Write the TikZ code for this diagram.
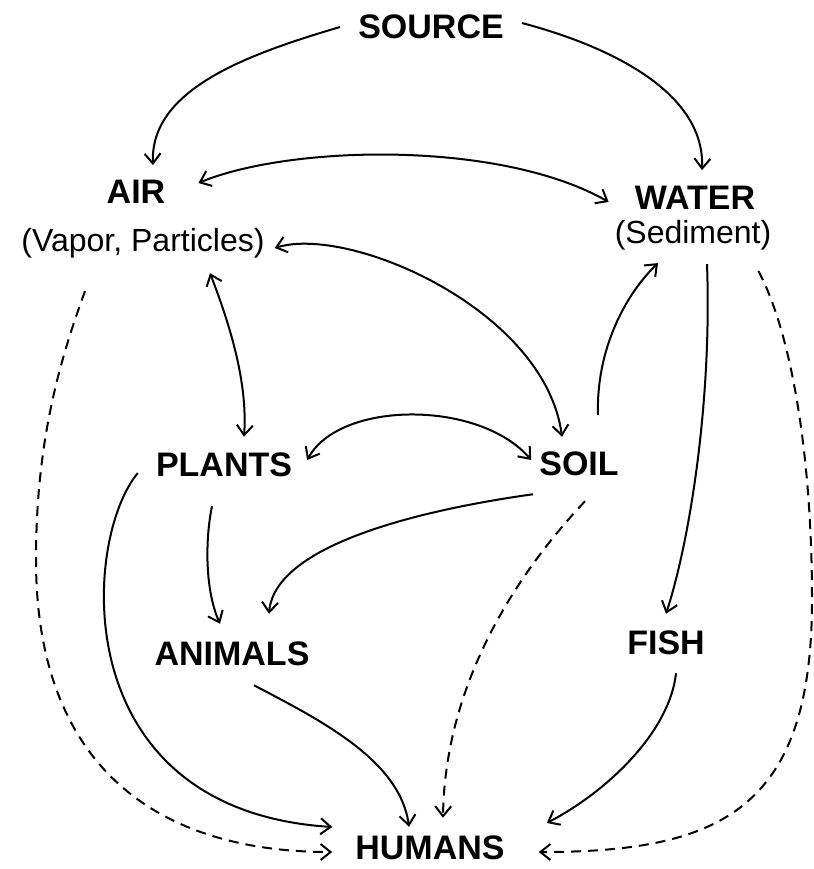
\documentclass[tikz,border=0pt]{standalone}
\usepackage{fontspec}
\setmainfont{Liberation Sans}
\usetikzlibrary{arrows.meta}

\begin{document}
\begin{tikzpicture}[x=1pt,y=1pt,
  lbl/.style={font=\bfseries\fontsize{34}{36}\selectfont,inner sep=6pt},
  note/.style={font=\fontsize{32}{35}\selectfont,inner sep=6pt},
  flow/.style={line width=2pt,-{Straight Barb[length=10pt,width=16pt]}},
  both/.style={flow,{Straight Barb[length=10pt,width=16pt]}-{Straight Barb[length=10pt,width=16pt]}},
  maybe/.style={flow,dash pattern=on 10pt off 7pt}]
\useasboundingbox (0,0) rectangle (813,-869);

\node[lbl] (source) at (431,-27) {SOURCE};
\node[lbl] (air) at (136,-192) {AIR};
\node[note] (vapor) at (143,-243) {(Vapor, Particles)};
\node[lbl] (water) at (695,-198) {WATER};
\node[note] (sediment) at (693,-235) {(Sediment)};
\node[lbl] (plants) at (224,-465) {PLANTS};
\node[lbl] (soil) at (579,-464) {SOIL};
\node[lbl] (animals) at (232,-654) {ANIMALS};
\node[lbl] (fish) at (666,-643) {FISH};
\node[lbl] (humans) at (430,-848) {HUMANS};

\draw[flow] ([xshift=-12]source.west) .. controls (245,-55) and (150,-90) .. ([shift={(17,9)}]air.north);
\draw[flow] ([shift={(12,4)}]source.east) .. controls (605,-45) and (705,-90) .. ([shift={(7,10)}]water.north);
\draw[both] ([shift={(27,9)}]air.east) .. controls (290,-145) and (500,-140) .. ([shift={(-20,-4)}]water.west);
\draw[both] ([shift={(4,-5)}]vapor.east) .. controls (350,-225) and (545,-310) .. ([shift={(-17,9)}]soil.north);
\draw[both] ([shift={(67,-9)}]vapor.south) .. controls (228,-320) and (248,-380) .. ([shift={(20,10)}]plants.north);
\draw[both] ([shift={(9,5)}]plants.east) .. controls (340,-400) and (480,-400) .. ([shift={(-2,4)}]soil.west);
\draw[flow] ([shift={(19,31)}]soil.north) .. controls (596,-350) and (625,-295) .. ([shift={(-35,-7)}]sediment.south);
\draw[flow] ([shift={(14,-8)}]sediment.south) .. controls (712,-400) and (690,-540) .. ([shift={(0,11)}]fish.north);
\draw[maybe] ([shift={(-19,-15)}]sediment.south east) .. controls (790,-330) and (812,-450) .. (812,-600) .. controls (812,-810) and (720,-852) .. ([shift={(28,-4)}]humans.east);
\draw[maybe] ([shift={(-58,-27)}]vapor.south) .. controls (60,-360) and (36,-440) .. (36,-560) .. controls (36,-760) and (150,-852) .. ([shift={(-17,-4)}]humans.west);
\draw[flow] ([shift={(-12,-8)}]plants.west) .. controls (82,-540) and (65,-810) .. ([shift={(-17,21)}]humans.west);
\draw[flow] ([shift={(-12,-23)}]plants.south) .. controls (205,-540) and (205,-590) .. ([shift={(-12,12)}]animals.north);
\draw[flow] ([yshift=-12]soil.south west) .. controls (420,-510) and (275,-545) .. ([shift={(37,22)}]animals.north);
\draw[maybe] ([shift={(6,-19)}]soil.south) .. controls (520,-570) and (445,-680) .. ([shift={(13,12)}]humans.north);
\draw[flow] ([shift={(22,-13)}]animals.south) .. controls (320,-720) and (400,-760) .. ([shift={(-21,3)}]humans.north);
\draw[flow] ([shift={(10,-12)}]fish.south) .. controls (670,-730) and (610,-790) .. ([shift={(36,25)}]humans.east);
\end{tikzpicture}
\end{document}
